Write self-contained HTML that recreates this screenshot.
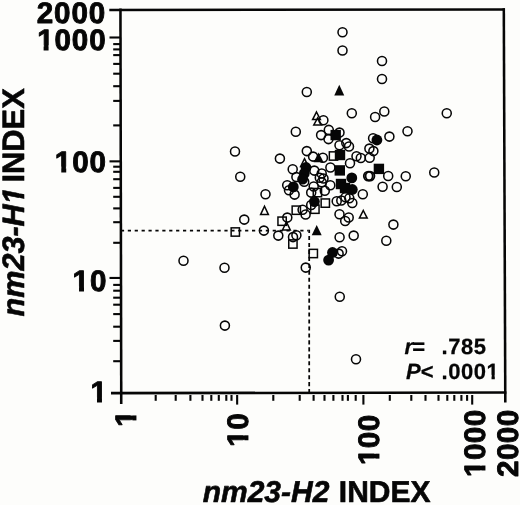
<!DOCTYPE html>
<html lang="en"><head><meta charset="utf-8"><title>nm23-H1 vs nm23-H2 index</title>
<style>
html,body{margin:0;padding:0;background:#fdfdfb;}
body{width:520px;height:505px;overflow:hidden;}
svg{display:block;}
text{font-family:"Liberation Sans",Arial,Helvetica,sans-serif;font-weight:bold;fill:#060606;stroke:#060606;stroke-width:var(--sw,0.6);stroke-linejoin:round;text-rendering:geometricPrecision;}
.i{font-style:italic;}
.oc{fill:none;stroke:#060606;stroke-width:1.55;}
.os{fill:none;stroke:#060606;stroke-width:1.5;}
.ot{fill:none;stroke:#060606;stroke-width:1.5;stroke-linejoin:miter;}
.f{fill:#060606;stroke:none;}
.ax{stroke:#060606;fill:none;}
</style></head><body>
<svg width="520" height="505" viewBox="0 0 520 505">
<rect x="0" y="0" width="520" height="505" fill="#fdfdfb"/>

<g class="ax" stroke-width="2.55" stroke-linecap="butt">
<path d="M120.45 8.5 L121.25 404"/>
<path d="M109.3 9.9 L505 9.4"/>
<path d="M503.8 8.2 L505.3 402.5"/>
<path d="M111 393.1 L506.4 392.55"/>
</g>
<g class="ax" stroke-width="2.1">
<path d="M109.5 37.5 H120"/>
<path d="M109.5 161.35 H120"/>
<path d="M109.5 277.95 H120"/>
<path d="M113.2 44.1 H120"/>
<path d="M113.2 49.4 H120"/>
<path d="M113.2 55.1 H120"/>
<path d="M113.2 63.9 H120"/>
<path d="M113.2 73.7 H120"/>
<path d="M113.2 86.2 H120"/>
<path d="M113.2 100.9 H120"/>
<path d="M113.2 125.4 H120"/>
<path d="M113.2 166.7 H120"/>
<path d="M113.2 171.8 H120"/>
<path d="M113.2 179.2 H120"/>
<path d="M113.2 187.9 H120"/>
<path d="M113.2 196.8 H120"/>
<path d="M113.2 208.4 H120"/>
<path d="M113.2 222.2 H120"/>
<path d="M113.2 242.8 H120"/>
<path d="M113.2 284.9 H120"/>
<path d="M113.2 290.7 H120"/>
<path d="M113.2 297.7 H120"/>
<path d="M113.2 304.7 H120"/>
<path d="M113.2 314.1 H120"/>
<path d="M113.2 326.7 H120"/>
<path d="M113.2 340.9 H120"/>
<path d="M113.2 361.2 H120"/>
<path d="M237.15 395 V404.6"/>
<path d="M363.4 395 V404.6"/>
<path d="M472.2 395 V404.6"/>
<path d="M155.7 395 V400.8"/>
<path d="M175.7 395 V400.8"/>
<path d="M190.4 395 V400.8"/>
<path d="M202.5 395 V400.8"/>
<path d="M211.3 395 V400.8"/>
<path d="M218.8 395 V400.8"/>
<path d="M226.3 395 V400.8"/>
<path d="M231.5 395 V400.8"/>
<path d="M273.3 395 V400.8"/>
<path d="M299.7 395 V400.8"/>
<path d="M313.6 395 V400.8"/>
<path d="M324.5 395 V400.8"/>
<path d="M333.4 395 V400.8"/>
<path d="M342.5 395 V400.8"/>
<path d="M347.9 395 V400.8"/>
<path d="M355.7 395 V400.8"/>
<path d="M389.8 395 V400.8"/>
<path d="M411.3 395 V400.8"/>
<path d="M425.5 395 V400.8"/>
<path d="M438.5 395 V400.8"/>
<path d="M447.3 395 V400.8"/>
<path d="M454.3 395 V400.8"/>
<path d="M461.4 395 V400.8"/>
<path d="M467.1 395 V400.8"/>
</g>
<path class="ax" stroke-width="1.6" stroke-dasharray="3.2 3.7" d="M120.9 230.65 H308.5"/>
<path class="ax" stroke-width="1.75" stroke-dasharray="4.1 2.86" stroke-dashoffset="0.7" d="M309.2 229.7 V392"/>
<g>
<rect class="os" x="231.15" y="227.85" width="8.3" height="8.3"/>
<rect class="os" x="277.95" y="217.05" width="8.3" height="8.3"/>
<rect class="os" x="292.15" y="206.05" width="8.3" height="8.3"/>
<rect class="os" x="288.75" y="239.85" width="8.3" height="8.3"/>
<rect class="os" x="309.15" y="249.35" width="8.3" height="8.3"/>
<rect class="os" x="310.75" y="205.05" width="8.3" height="8.3"/>
<rect class="os" x="321.15" y="198.95" width="8.3" height="8.3"/>
<rect class="os" x="313.25" y="188.45" width="8.3" height="8.3"/>
<rect class="os" x="329.35" y="151.85" width="8.3" height="8.3"/>
<path class="ot" d="M316.50 112.00 L320.40 119.60 H312.60 Z"/>
<path class="ot" d="M317.70 117.90 L321.60 124.90 H313.80 Z"/>
<path class="ot" d="M264.50 206.30 L268.40 214.60 H260.60 Z"/>
<path class="ot" d="M286.40 221.90 L290.30 229.90 H282.50 Z"/>
<path class="ot" d="M363.30 210.50 L367.20 218.10 H359.40 Z"/>
<path class="ot" d="M304.50 158.70 L308.40 166.40 H300.60 Z"/>
<circle class="oc" cx="235" cy="151.5" r="4.5"/>
<circle class="oc" cx="240.25" cy="176.75" r="4.5"/>
<circle class="oc" cx="244.25" cy="219.6" r="4.5"/>
<circle class="oc" cx="183.5" cy="260.75" r="4.5"/>
<circle class="oc" cx="224.5" cy="267.75" r="4.5"/>
<circle class="oc" cx="224.9" cy="325.6" r="4.5"/>
<circle class="oc" cx="265.5" cy="194.3" r="4.5"/>
<circle class="oc" cx="263.9" cy="230.6" r="4.5"/>
<circle class="oc" cx="278.3" cy="235.6" r="4.5"/>
<circle class="oc" cx="279.9" cy="158.6" r="4.5"/>
<circle class="oc" cx="295.8" cy="131.8" r="4.5"/>
<circle class="oc" cx="306.8" cy="92" r="4.5"/>
<circle class="oc" cx="342.5" cy="32.25" r="4.5"/>
<circle class="oc" cx="342.5" cy="50.5" r="4.5"/>
<circle class="oc" cx="382" cy="61" r="4.5"/>
<circle class="oc" cx="382" cy="79" r="4.5"/>
<circle class="oc" cx="351.8" cy="113.3" r="4.5"/>
<circle class="oc" cx="375.1" cy="117" r="4.5"/>
<circle class="oc" cx="384.3" cy="111.4" r="4.5"/>
<circle class="oc" cx="389.4" cy="136.6" r="4.5"/>
<circle class="oc" cx="407.5" cy="131.3" r="4.5"/>
<circle class="oc" cx="446.75" cy="113.25" r="4.5"/>
<circle class="oc" cx="434.25" cy="172.5" r="4.5"/>
<circle class="oc" cx="405.75" cy="176.25" r="4.5"/>
<circle class="oc" cx="396.8" cy="187" r="4.5"/>
<circle class="oc" cx="388.2" cy="176" r="4.5"/>
<circle class="oc" cx="382.6" cy="186.8" r="4.5"/>
<circle class="oc" cx="393.4" cy="224.6" r="4.5"/>
<circle class="oc" cx="386.3" cy="240.8" r="4.5"/>
<circle class="oc" cx="353.7" cy="235.6" r="4.5"/>
<circle class="oc" cx="339.6" cy="237.3" r="4.5"/>
<circle class="oc" cx="342" cy="251.3" r="4.5"/>
<circle class="oc" cx="338.6" cy="253.6" r="4.5"/>
<circle class="oc" cx="305.75" cy="267.6" r="4.5"/>
<circle class="oc" cx="339.75" cy="296.75" r="4.5"/>
<circle class="oc" cx="356" cy="359.25" r="4.5"/>
<circle class="oc" cx="362.8" cy="194.2" r="4.5"/>
<circle class="oc" cx="323.4" cy="120.3" r="4.5"/>
<circle class="oc" cx="328.8" cy="129.9" r="4.5"/>
<circle class="oc" cx="321.1" cy="135.1" r="4.5"/>
<circle class="oc" cx="328.5" cy="139.1" r="4.5"/>
<circle class="oc" cx="306.8" cy="151.1" r="4.5"/>
<circle class="oc" cx="313.1" cy="156.6" r="4.5"/>
<circle class="oc" cx="322.9" cy="157.8" r="4.5"/>
<circle class="oc" cx="339.5" cy="132.6" r="4.5"/>
<circle class="oc" cx="346.3" cy="143.1" r="4.5"/>
<circle class="oc" cx="349" cy="146.4" r="4.5"/>
<circle class="oc" cx="339.5" cy="145.3" r="4.5"/>
<circle class="oc" cx="373.1" cy="138.2" r="4.5"/>
<circle class="oc" cx="369.4" cy="148.6" r="4.5"/>
<circle class="oc" cx="373.4" cy="151.1" r="4.5"/>
<circle class="oc" cx="369.7" cy="157.8" r="4.5"/>
<circle class="oc" cx="356.5" cy="156.3" r="4.5"/>
<circle class="oc" cx="360.8" cy="157.9" r="4.5"/>
<circle class="oc" cx="350" cy="163.2" r="4.5"/>
<circle class="oc" cx="292.7" cy="169.2" r="4.5"/>
<circle class="oc" cx="296.4" cy="177.1" r="4.5"/>
<circle class="oc" cx="287.2" cy="185.2" r="4.5"/>
<circle class="oc" cx="289" cy="190.3" r="4.5"/>
<circle class="oc" cx="294.6" cy="194.6" r="4.5"/>
<circle class="oc" cx="304.2" cy="181.8" r="4.5"/>
<circle class="oc" cx="314.3" cy="170.6" r="4.5"/>
<circle class="oc" cx="321.7" cy="173.5" r="4.5"/>
<circle class="oc" cx="319.8" cy="177.8" r="4.5"/>
<circle class="oc" cx="323.5" cy="178.5" r="4.5"/>
<circle class="oc" cx="321.7" cy="182.2" r="4.5"/>
<circle class="oc" cx="330.4" cy="167.4" r="4.5"/>
<circle class="oc" cx="313.7" cy="186.5" r="4.5"/>
<circle class="oc" cx="330.3" cy="185.2" r="4.5"/>
<circle class="oc" cx="324.8" cy="190.8" r="4.5"/>
<circle class="oc" cx="311.2" cy="192.6" r="4.5"/>
<circle class="oc" cx="302.6" cy="209.8" r="4.5"/>
<circle class="oc" cx="305.6" cy="214.4" r="4.5"/>
<circle class="oc" cx="311.2" cy="204.9" r="4.5"/>
<circle class="oc" cx="287.3" cy="217.6" r="4.5"/>
<circle class="oc" cx="293" cy="237.1" r="4.5"/>
<circle class="oc" cx="296.4" cy="235.3" r="4.5"/>
<circle class="oc" cx="336.7" cy="201.2" r="4.5"/>
<circle class="oc" cx="341.3" cy="200.5" r="4.5"/>
<circle class="oc" cx="345.5" cy="197.3" r="4.5"/>
<circle class="oc" cx="349.3" cy="198.3" r="4.5"/>
<circle class="oc" cx="352.3" cy="203" r="4.5"/>
<circle class="oc" cx="339.5" cy="214.2" r="4.5"/>
<circle class="oc" cx="345.2" cy="220.9" r="4.5"/>
<circle class="oc" cx="348.7" cy="217.5" r="4.5"/>
<circle class="oc" style="stroke-width:1.8" cx="368.25" cy="176.1" r="4.45"/><circle class="oc" style="stroke-width:1.8" cx="370" cy="176.1" r="4.45"/>
<circle class="f" cx="306" cy="167.5" r="5.4"/>
<circle class="f" cx="304.3" cy="173.4" r="5.4"/>
<circle class="f" cx="302.6" cy="179.2" r="5.4"/>
<circle class="f" cx="293.3" cy="186.9" r="5.4"/>
<circle class="f" cx="314.4" cy="201.6" r="5.4"/>
<circle class="f" cx="376.9" cy="140" r="5.4"/>
<circle class="f" cx="351.8" cy="177.9" r="5.4"/>
<circle class="f" cx="352.3" cy="189.5" r="5.4"/>
<circle class="f" cx="332.5" cy="252.5" r="5.4"/>
<circle class="f" cx="328.6" cy="260.1" r="5.4"/>
<rect class="f" x="330.50" y="129.90" width="10.4" height="10.4"/>
<rect class="f" x="334.80" y="149.80" width="10.4" height="10.4"/>
<rect class="f" x="334.60" y="165.20" width="10.4" height="10.4"/>
<rect class="f" x="373.70" y="163.70" width="10.4" height="10.4"/>
<rect class="f" x="335.80" y="178.80" width="10.4" height="10.4"/>
<rect class="f" x="339.80" y="182.80" width="10.4" height="10.4"/>
<path class="f" d="M339.25 84.85 L344.25 95.55 H334.25 Z"/>
<path class="f" d="M316.70 225.10 L321.70 235.30 H311.70 Z"/>
<path class="f" d="M318.60 152.50 L323.60 162.30 H313.60 Z"/>
</g>
<g font-size="29.6" letter-spacing="0.9" text-anchor="end" style="--sw:0.9">
<text x="106.2" y="23.4">2000</text>
<text x="106.6" y="50.4">1000</text>
<text x="106.9" y="171.6">100</text>
<text x="107.3" y="291.3">10</text>
<text x="107.9" y="402.4">1</text>
</g>
<g fill="#fdfdfb" stroke="none"><rect x="37.37" y="45.33" width="6.24" height="6.92"/><rect x="48.57" y="45.33" width="5.87" height="6.92"/></g>
<g fill="#fdfdfb" stroke="none"><rect x="55.03" y="166.53" width="6.24" height="6.92"/><rect x="66.23" y="166.53" width="5.87" height="6.92"/></g>
<g fill="#fdfdfb" stroke="none"><rect x="72.79" y="286.23" width="6.24" height="6.92"/><rect x="84.00" y="286.23" width="5.87" height="6.92"/></g>
<g fill="#fdfdfb" stroke="none"><rect x="90.75" y="397.33" width="6.24" height="6.92"/><rect x="101.96" y="397.33" width="5.87" height="6.92"/></g>
<g font-size="29.6" letter-spacing="0.4" text-anchor="end" style="--sw:0.9">
<text transform="translate(135.6 410) rotate(-90)">1</text>
<text transform="translate(248.2 413) rotate(-90)">10</text>
<text transform="translate(379.4 414.5) rotate(-90)">100</text>
<text transform="translate(485.4 409.5) rotate(-90)">1000</text>
<text transform="translate(517.8 409.5) rotate(-90)">2000</text>
</g>
<g fill="#fdfdfb" stroke="none" transform="translate(135.6 410) rotate(-90)"><rect x="-16.65" y="-5.07" width="6.24" height="6.92"/><rect x="-5.44" y="-5.07" width="5.87" height="6.92"/></g>
<g fill="#fdfdfb" stroke="none" transform="translate(248.2 413) rotate(-90)"><rect x="-33.51" y="-5.07" width="6.24" height="6.92"/><rect x="-22.30" y="-5.07" width="5.87" height="6.92"/></g>
<g fill="#fdfdfb" stroke="none" transform="translate(379.4 414.5) rotate(-90)"><rect x="-50.37" y="-5.07" width="6.24" height="6.92"/><rect x="-39.17" y="-5.07" width="5.87" height="6.92"/></g>
<g fill="#fdfdfb" stroke="none" transform="translate(485.4 409.5) rotate(-90)"><rect x="-67.23" y="-5.07" width="6.24" height="6.92"/><rect x="-56.03" y="-5.07" width="5.87" height="6.92"/></g>
<text font-size="31" transform="translate(24.4 316.5) rotate(-90)" textLength="129.2" lengthAdjust="spacingAndGlyphs" class="i">nm23-H1</text>
<g fill="#fdfdfb" stroke="none" transform="translate(24.4 316.5) rotate(-90)"><path d="M110.90 1.40 L112.23 -5.40 L118.66 -5.40 L117.33 1.40 Z"/><path d="M122.03 1.40 L123.36 -5.40 L129.44 -5.40 L128.12 1.40 Z"/></g>
<text font-size="31" transform="translate(24 182.6) rotate(-90)" textLength="94.4" lengthAdjust="spacingAndGlyphs">INDEX</text>
<text font-size="30" x="202.7" y="501.5" class="i">nm23-H2</text>
<text font-size="30" x="338.8" y="501.5">INDEX</text>
<g font-size="22" style="--sw:0.25">
<text x="404.6" y="354"><tspan class="i">r</tspan><tspan dx="-0.8">=</tspan></text>
<text x="441.5" y="354" letter-spacing="0.55">.785</text>
<text x="406" y="378.8"><tspan class="i">P</tspan>&lt;</text>
<text x="441.5" y="378.8" letter-spacing="0.55">.0001</text>
</g>
<g fill="#fdfdfb" stroke="none"><rect x="486.58" y="374.83" width="4.95" height="5.50"/><rect x="494.80" y="374.83" width="4.67" height="5.50"/></g>
</svg>
</body></html>
